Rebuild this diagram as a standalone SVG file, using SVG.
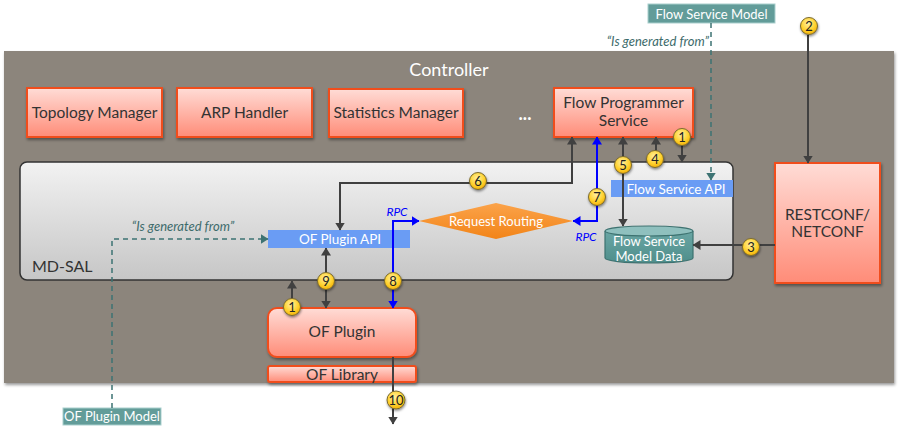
<svg xmlns="http://www.w3.org/2000/svg" width="900" height="444" viewBox="0 0 900 444">
<style>
text{font-family:Lato,"Open Sans","DejaVu Sans",sans-serif}
.node{fill:url(#gNode);stroke:#f04e1e;stroke-width:2;filter:url(#sh)}
.nt{font-size:15.5px;fill:#333;text-anchor:middle}
.ln{fill:none;stroke:#404040;stroke-width:2}
.bl{fill:none;stroke:#0000ff;stroke-width:2}
.ds{fill:none;stroke:#3d7373;stroke-width:1.5;stroke-dasharray:5 4}
.api{fill:#6a9cf4}
.at{font-size:13.5px;fill:#fff;text-anchor:middle}
.num circle{fill:url(#gNum);stroke:#7a6a30;stroke-width:1;filter:url(#sh2)}
.num text{font-size:13px;fill:#222;text-anchor:middle}
.model{fill:#629c99;stroke:#a9cfcd;stroke-width:1}
.mt{font-size:13px;fill:#fff;text-anchor:middle}
.gen{font-size:13px;font-style:italic;fill:#3d6b6b}
.rpc{font-size:12px;font-style:italic;fill:#0000ff;text-anchor:middle}
</style>
<defs>
<linearGradient id="gNode" x1="0" y1="0" x2="0" y2="1"><stop offset="0" stop-color="#ffdcd6"/><stop offset="1" stop-color="#ff8c78"/></linearGradient>
<linearGradient id="gSal" x1="0" y1="0" x2="0" y2="1"><stop offset="0" stop-color="#f2f2f2"/><stop offset="1" stop-color="#c6c6c6"/></linearGradient>
<linearGradient id="gDia" x1="0" y1="0" x2="0" y2="1"><stop offset="0" stop-color="#fba34a"/><stop offset="1" stop-color="#f28418"/></linearGradient>
<radialGradient id="gNum" cx="0.45" cy="0.35" r="0.7"><stop offset="0" stop-color="#fff0a0"/><stop offset="0.6" stop-color="#ffd22e"/><stop offset="1" stop-color="#f0a800"/></radialGradient>
<linearGradient id="gCyl" x1="0" y1="0" x2="0" y2="1"><stop offset="0" stop-color="#6aa6a4"/><stop offset="1" stop-color="#4f8e8b"/></linearGradient>
<filter id="sh" x="-10%" y="-10%" width="130%" height="140%"><feDropShadow dx="1" dy="2" stdDeviation="1.5" flood-opacity="0.4"/></filter>
<filter id="sh2" x="-30%" y="-30%" width="170%" height="170%"><feDropShadow dx="0.5" dy="1.5" stdDeviation="1" flood-opacity="0.45"/></filter>
<marker id="ah" viewBox="0 0 8 10" refX="7.5" refY="5" markerWidth="8" markerHeight="10" markerUnits="userSpaceOnUse" orient="auto-start-reverse"><path d="M0,0L8,5L0,10z" fill="#404040"/></marker>
<marker id="ab" viewBox="0 0 8 10" refX="7.5" refY="5" markerWidth="8" markerHeight="10" markerUnits="userSpaceOnUse" orient="auto-start-reverse"><path d="M0,0L8,5L0,10z" fill="#0000ff"/></marker>
<marker id="at" viewBox="0 0 8 10" refX="7.5" refY="5" markerWidth="8" markerHeight="10" markerUnits="userSpaceOnUse" orient="auto"><path d="M0,0L8,5L0,10z" fill="#3d7373"/></marker>
</defs>
<rect width="900" height="444" fill="#fff"/>
<g id="controller">
<rect x="4" y="51" width="890" height="332" fill="#8c857b" filter="url(#sh)"/>
<text x="449" y="76" font-size="18" fill="#fff" text-anchor="middle">Controller</text>
<text x="525" y="120" font-size="18" font-weight="bold" fill="#fff" text-anchor="middle">...</text>
</g>
<g id="mdsal">
<rect x="20" y="162" width="713" height="118" rx="7" fill="url(#gSal)" stroke="#333" stroke-width="1.5"/>
<text x="32" y="272" font-size="16" fill="#333">MD-SAL</text>
</g>
<g id="topology-manager"><rect class="node" x="27" y="88" width="135" height="49"/><text class="nt" x="94.5" y="118">Topology Manager</text></g>
<g id="arp-handler"><rect class="node" x="177" y="88" width="135" height="49"/><text class="nt" x="244.5" y="118">ARP Handler</text></g>
<g id="statistics-manager"><rect class="node" x="329" y="89" width="134" height="48"/><text class="nt" x="396" y="118">Statistics Manager</text></g>
<g id="flow-programmer-service"><rect class="node" x="554" y="88" width="139" height="49"/><text class="nt" x="623.5" y="108" font-size="15.5">Flow Programmer<tspan x="623.5" dy="18">Service</tspan></text></g>
<g id="restconf-netconf"><rect class="node" x="775" y="163" width="105" height="120"/><text class="nt" x="827.5" y="219.5" font-size="15.5">RESTCONF/<tspan x="827.5" dy="17">NETCONF</tspan></text></g>
<g id="of-plugin"><rect class="node" x="268" y="308" width="148" height="49" rx="9"/><text class="nt" x="342" y="337" font-size="16">OF Plugin</text></g>
<g id="of-library"><rect class="node" x="268" y="366" width="148" height="16" rx="2"/><text class="nt" x="342" y="379.5" font-size="15">OF Library</text></g>
<g id="flow-service-api"><rect class="api" x="611" y="180" width="122" height="17"/><text class="at" x="676" y="193.5">Flow Service API</text></g>
<g id="of-plugin-api"><rect class="api" x="268" y="230" width="142" height="18"/><text class="at" x="340" y="244">OF Plugin API</text></g>
<g id="request-routing"><polygon points="419,221 496,203 573,221 496,239" fill="url(#gDia)"/><text x="496" y="225.5" font-size="13" fill="#fff" text-anchor="middle">Request Routing</text></g>
<g id="flow-service-model-data">
<path d="M605,231 L605,258 A44,5 0 0 0 693,258 L693,231" fill="url(#gCyl)" stroke="#3d7270" stroke-width="1.2"/>
<ellipse cx="649" cy="231" rx="44" ry="5" fill="#8fc0be" stroke="#3d7270" stroke-width="1.2"/>
<text class="mt" x="649" y="245.5" font-size="12.5">Flow Service<tspan x="649" dy="15.5">Model Data</tspan></text>
</g>
<g id="flow-service-model"><rect class="model" x="648" y="4" width="127" height="19"/><text class="mt" x="711.5" y="18.5">Flow Service Model</text></g>
<g id="of-plugin-model"><rect class="model" x="63" y="408" width="98" height="17"/><text class="mt" x="112" y="421" font-size="12.5">OF Plugin Model</text></g>
<g id="connectors">
<path class="ds" d="M711,23 L711,180" marker-end="url(#at)"/>
<path class="ds" d="M112,408 L112,239 L268,239" marker-end="url(#at)"/>
<text class="gen" x="709" y="46" text-anchor="end">“Is generated from”</text>
<text class="gen" x="183" y="231" text-anchor="middle">“Is generated from”</text>
<path class="ln" d="M808,35 L808,163" marker-end="url(#ah)"/>
<path class="ln" d="M682,145 L682,162" marker-end="url(#ah)"/>
<path class="ln" d="M656,160 L656,137" marker-end="url(#ah)"/>
<path class="ln" d="M623,137 L623,226" marker-start="url(#ah)" marker-end="url(#ah)"/>
<path class="bl" d="M597,137 L597,221 L573,221" marker-start="url(#ab)" marker-end="url(#ab)"/>
<path class="ln" d="M572,137 L572,183 L340,183 L340,230" marker-start="url(#ah)" marker-end="url(#ah)"/>
<path class="bl" d="M419,221 L393,221 L393,308" marker-start="url(#ab)" marker-end="url(#ab)"/>
<path class="ln" d="M326,248 L326,308" marker-start="url(#ah)" marker-end="url(#ah)"/>
<path class="ln" d="M292,300 L292,281" marker-end="url(#ah)"/>
<path class="ln" d="M775,245 L693,245" marker-end="url(#ah)"/>
<path class="ln" d="M393,357 L393,424" marker-end="url(#ah)"/>
<text class="rpc" x="397" y="216">RPC</text>
<text class="rpc" x="586" y="241">RPC</text>
</g>
<g id="numbers">
<g class="num"><circle cx="809" cy="26" r="8.5"/><text x="809" y="30.5">2</text></g>
<g class="num"><circle cx="682" cy="137" r="8.5"/><text x="682" y="141.5">1</text></g>
<g class="num"><circle cx="655" cy="159" r="8.5"/><text x="655" y="163.5">4</text></g>
<g class="num"><circle cx="623" cy="165" r="8.5"/><text x="623" y="169.5">5</text></g>
<g class="num"><circle cx="597" cy="197" r="8.5"/><text x="597" y="201.5">7</text></g>
<g class="num"><circle cx="478" cy="181" r="8.5"/><text x="478" y="185.5">6</text></g>
<g class="num"><circle cx="751" cy="247" r="8.5"/><text x="751" y="251.5">3</text></g>
<g class="num"><circle cx="326" cy="281" r="8.5"/><text x="326" y="285.5">9</text></g>
<g class="num"><circle cx="393" cy="281" r="8.5"/><text x="393" y="285.5">8</text></g>
<g class="num"><circle cx="292" cy="307" r="8.5"/><text x="292" y="311.5">1</text></g>
<g class="num"><circle cx="396" cy="400" r="9"/><text x="396" y="404.5" font-size="12">10</text></g>
</g>
</svg>
